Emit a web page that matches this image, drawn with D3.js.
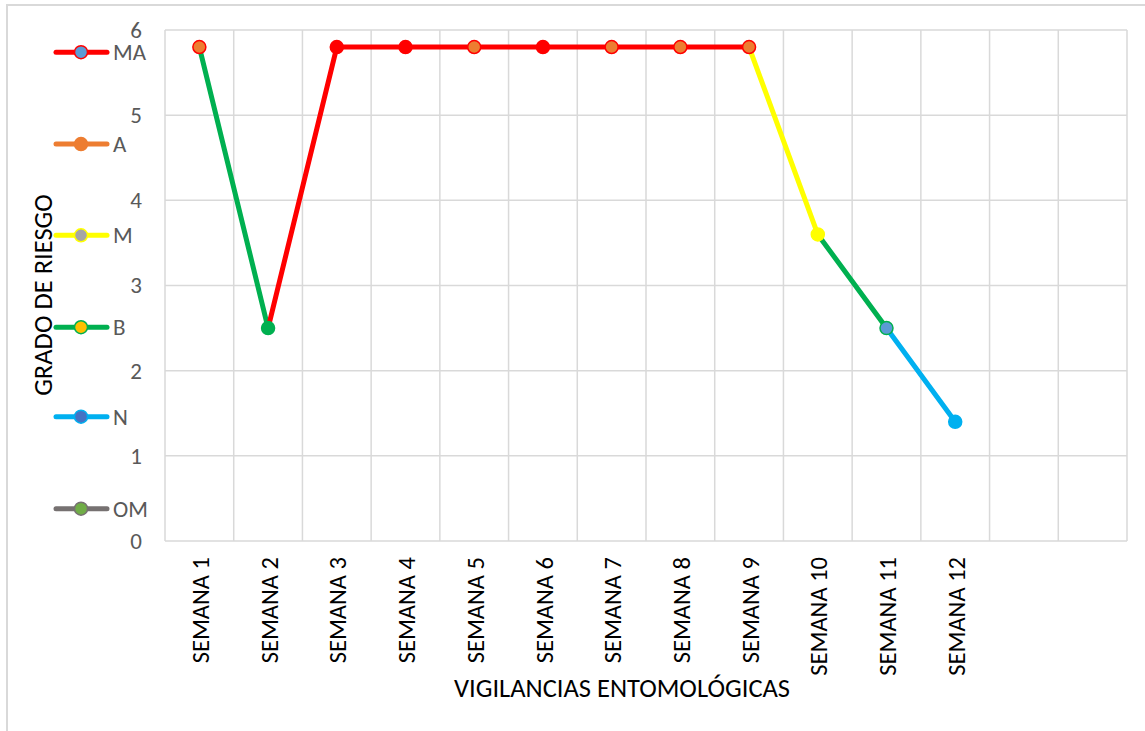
<!DOCTYPE html>
<html>
<head>
<meta charset="utf-8">
<script src="https://cdn.jsdelivr.net/npm/d3@7"></script>
<style>
  body { margin: 0; background: #fff; }
  svg { display: block; font-family: Carlito, Calibri, Lato, sans-serif; }
</style>
</head>
<body>
<svg id="chart" width="1145" height="731"></svg>
<script>
// categories (14 slots on the axis, last two empty)
const weeks = ["SEMANA 1", "SEMANA 2", "SEMANA 3", "SEMANA 4", "SEMANA 5", "SEMANA 6",
  "SEMANA 7", "SEMANA 8", "SEMANA 9", "SEMANA 10", "SEMANA 11", "SEMANA 12", "", " "];
const riskValues = [5.8, 2.5, 5.8, 5.8, 5.8, 5.8, 5.8, 5.8, 5.8, 3.6, 2.5, 1.4];
// level of the segment that ends at point i (i >= 1)
const segmentLevel = [null, "B", "MA", "MA", "MA", "MA", "MA", "MA", "MA", "M", "B", "N"];
// marker type of each point
const pointMarker = ["A*", "Bfill", "MAfill", "MAfill", "A*", "MAfill", "A*", "A*", "A*", "Mfill", "N*", "Nfill"];
const yTicks = [0, 1, 2, 3, 4, 5, 6];
const legendLevels = ["MA", "A", "M", "B", "N", "OM"];
const legendValues = [5.74, 4.66, 3.59, 2.51, 1.46, 0.38];

const levelColor = { MA: "#FF0000", A: "#ED7D31", M: "#FFFF00", B: "#00B050", N: "#00B0F0", OM: "#767171" };
const legendMarkerFill = { MA: "#5B9BD5", A: "#ED7D31", M: "#A5A5A5", B: "#FFC000", N: "#4472C4", OM: "#70AD47" };
const markerStyle = {
  "A*": { fill: "#ED7D31", stroke: "#FF0000" },
  "Bfill": { fill: "#00B050", stroke: "#00B050" },
  "MAfill": { fill: "#FF0000", stroke: "#FF0000" },
  "Mfill": { fill: "#FFFF00", stroke: "#FFFF00" },
  "N*": { fill: "#5B9BD5", stroke: "#00B050" },
  "Nfill": { fill: "#00B0F0", stroke: "#00B0F0" }
};

const svg = d3.select("#chart");
const plot = { left: 165, top: 30, right: 1127, bottom: 541 };
const FONT = "Carlito, Calibri, Lato, sans-serif";

// chart area border (only top and left are inside the picture)
svg.append("rect")
  .attr("x", 7).attr("y", 5)
  .attr("width", 1160).attr("height", 760)
  .attr("fill", "none").attr("stroke", "#D9D9D9").attr("stroke-width", 2);

const x = d3.scaleBand().domain(weeks).range([plot.left, plot.right]).padding(0);
const y = d3.scaleLinear().domain([0, 6]).range([plot.bottom, plot.top]);

// gridlines
const grid = svg.append("g").attr("stroke", "#D9D9D9").attr("stroke-width", 1.5);
grid.selectAll("line.h").data(yTicks).enter().append("line")
  .attr("x1", plot.left).attr("x2", plot.right)
  .attr("y1", d => y(d)).attr("y2", d => y(d));
grid.selectAll("line.v").data(weeks.concat(["end"])).enter().append("line")
  .attr("x1", (d, i) => i < weeks.length ? x(d) : plot.right)
  .attr("x2", (d, i) => i < weeks.length ? x(d) : plot.right)
  .attr("y1", plot.top).attr("y2", plot.bottom);

// y axis tick labels
const yAxis = svg.append("g")
  .attr("transform", `translate(${plot.left - 23},0)`)
  .call(d3.axisLeft(y).tickValues(yTicks).tickFormat(d3.format("d")).tickSize(0).tickPadding(0));
yAxis.select(".domain").remove();
yAxis.selectAll("text")
  .attr("fill", "#595959").attr("font-size", "23px")
  .attr("font-family", FONT);

// x axis labels, rotated
const xAxis = svg.append("g")
  .attr("transform", `translate(0,${plot.bottom})`)
  .call(d3.axisBottom(x).tickSize(0).tickPadding(0));
xAxis.select(".domain").remove();
xAxis.selectAll("text")
  .attr("font-size", "24.5px").attr("fill", "#000")
  .attr("font-family", FONT)
  .attr("transform", "rotate(-90)")
  .attr("text-anchor", "end")
  .attr("x", -16).attr("y", 1).attr("dy", "0.35em");

// axis titles
svg.append("text")
  .attr("transform", `translate(52,295) rotate(-90)`)
  .attr("text-anchor", "middle").attr("font-size", "26.5px").attr("fill", "#000")
  .text("GRADO DE RIESGO");
svg.append("text")
  .attr("x", 622).attr("y", 697)
  .attr("text-anchor", "middle").attr("font-size", "26.5px").attr("fill", "#000")
  .text("VIGILANCIAS ENTOMOLÓGICAS");

// series segments
const cx = i => x(weeks[i]) + x.bandwidth() / 2;
const segs = riskValues.map((v, i) => i).filter(i => i > 0);
svg.append("g").selectAll("line").data(segs).enter().append("line")
  .attr("x1", i => cx(i - 1)).attr("y1", i => y(riskValues[i - 1]))
  .attr("x2", i => cx(i)).attr("y2", i => y(riskValues[i]))
  .attr("stroke", i => levelColor[segmentLevel[i]])
  .attr("stroke-width", 5).attr("stroke-linecap", "round");

// markers
svg.append("g").selectAll("circle").data(riskValues).enter().append("circle")
  .attr("cx", (d, i) => cx(i)).attr("cy", d => y(d))
  .attr("r", 6.5)
  .attr("fill", (d, i) => markerStyle[pointMarker[i]].fill)
  .attr("stroke", (d, i) => markerStyle[pointMarker[i]].stroke)
  .attr("stroke-width", 1.5);

// legend on the left
const legend = svg.append("g").selectAll("g").data(legendLevels).enter().append("g")
  .attr("transform", (d, i) => `translate(0,${y(legendValues[i])})`);
legend.append("line")
  .attr("x1", 56).attr("x2", 107).attr("y1", 0).attr("y2", 0)
  .attr("stroke", d => levelColor[d]).attr("stroke-width", 5).attr("stroke-linecap", "round");
legend.append("circle")
  .attr("cx", 81).attr("cy", 0).attr("r", 6.5)
  .attr("fill", d => legendMarkerFill[d])
  .attr("stroke", d => levelColor[d]).attr("stroke-width", 1.5);
legend.append("text")
  .attr("x", 113).attr("y", 0).attr("dy", "0.35em")
  .attr("font-size", "23px").attr("fill", "#595959")
  .text(d => d);
</script>
</body>
</html>
